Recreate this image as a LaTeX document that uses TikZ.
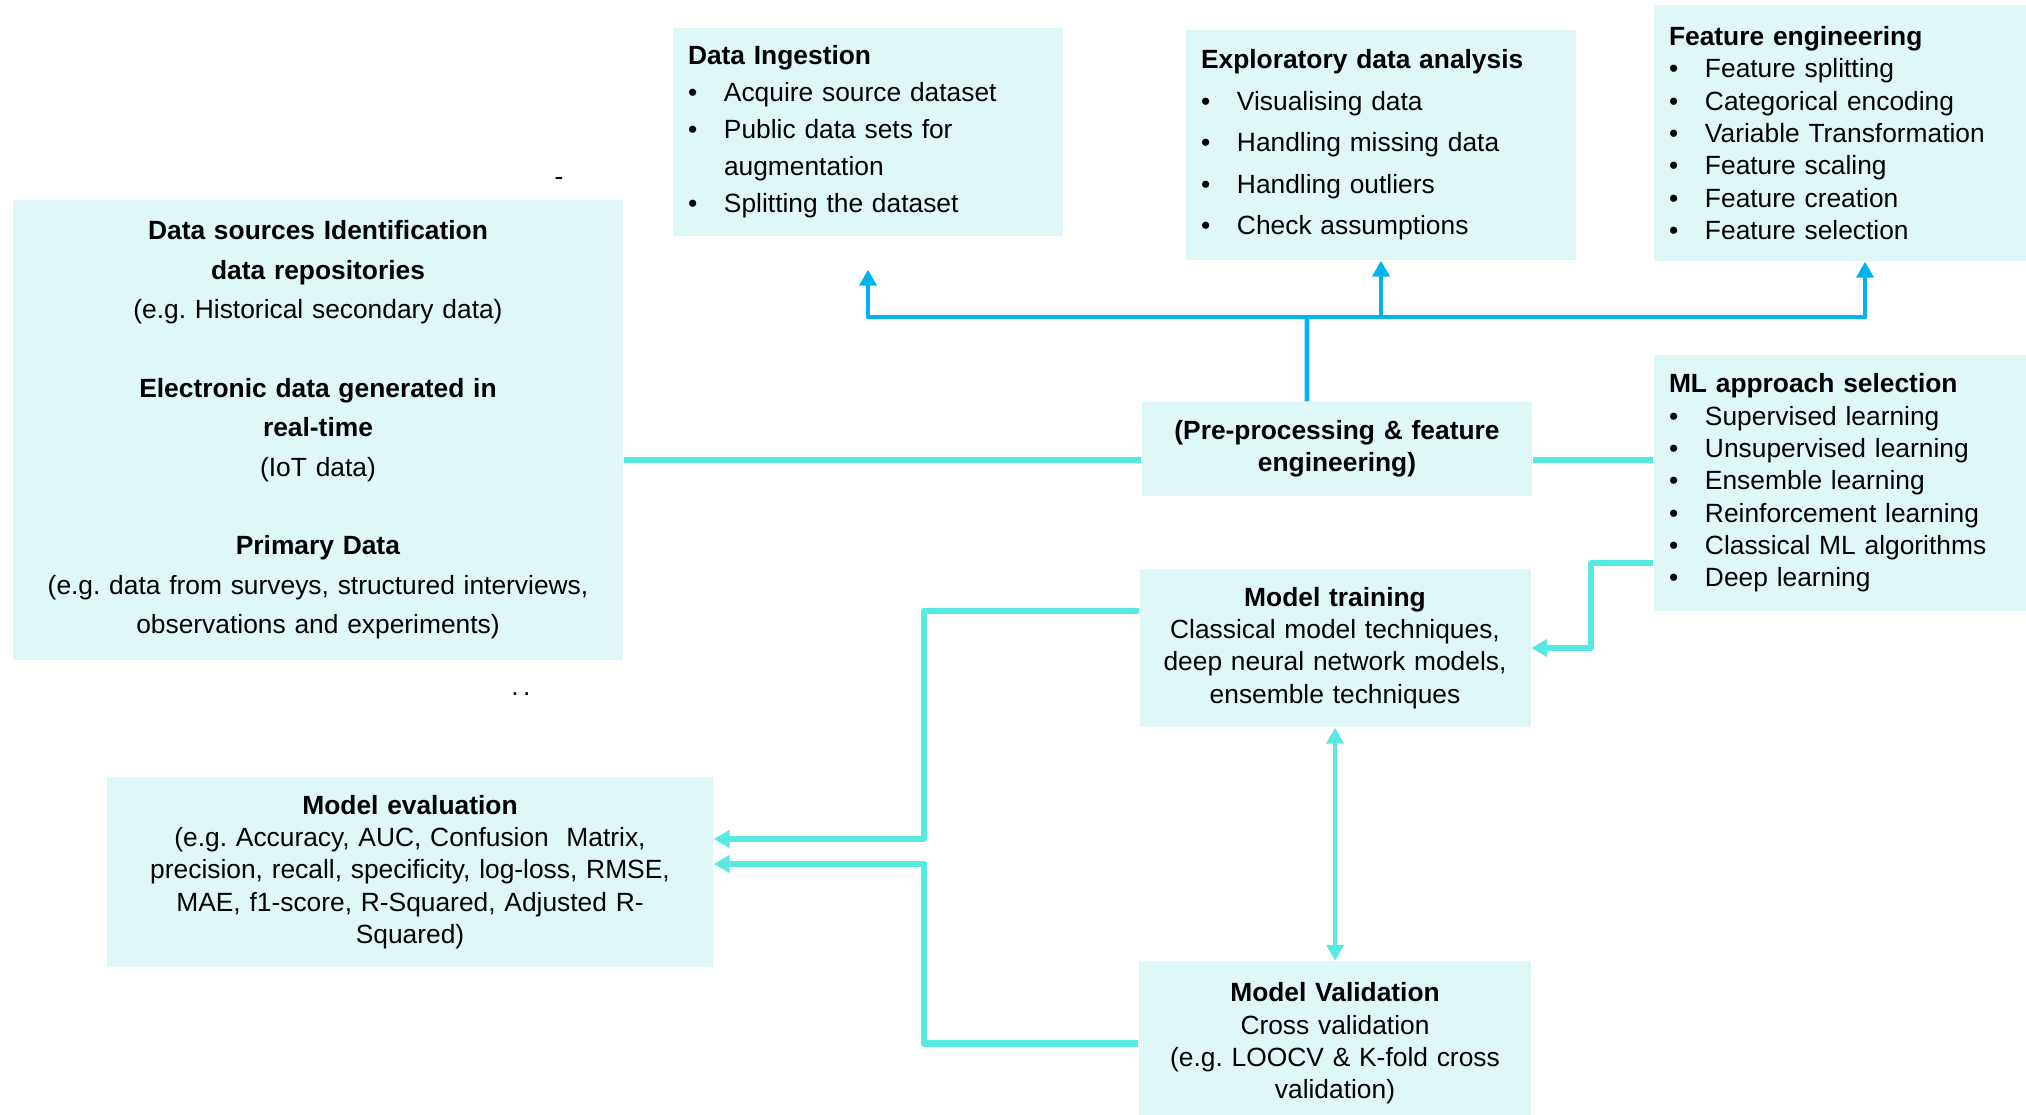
\documentclass[tikz,border=0pt]{standalone}
\usepackage{fontspec}
\setmainfont{Liberation Sans}
\usetikzlibrary{positioning, arrows.meta}

\definecolor{boxfill}{RGB}{223,248,247}
\definecolor{tqline}{RGB}{88,234,224}
\definecolor{blline}{RGB}{0,178,240}

\frenchspacing
\newcommand{\itm}{\par\hangindent=0.36cm\hangafter=1\noindent\makebox[0.36cm][l]{\textbullet}}

\begin{document}
\begin{tikzpicture}[>={Triangle[length=4.5pt,width=4.8pt]}, line join=round,
  box/.style={fill=boxfill, inner xsep=0.15cm, inner ysep=0pt, font=\fontsize{7.5}{9.2}\selectfont},
  list/.style={box, align=left},
  mid/.style={box, align=center},
  tq/.style={draw=tqline, line width=1.8pt},
  bl/.style={draw=blline, line width=1.3pt}]
  \useasboundingbox (0,0) rectangle (20.26,11.14);

  \node (di) [list, text width=3.60cm, minimum height=2.08cm, font=\fontsize{7.5}{10.5}\selectfont] at (8.68,9.82)
    {\textbf{Data Ingestion}\itm Acquire source dataset\itm Public data sets for\newline augmentation\itm Splitting the dataset};
  \node (eda) [list, text width=3.60cm, minimum height=2.30cm, font=\fontsize{7.5}{11.8}\selectfont] at (13.81,9.69)
    {\textbf{Exploratory data analysis}\itm Visualising data\itm Handling missing data\itm Handling outliers\itm Check assumptions};
  \node (fe) [list, text width=3.42cm, minimum height=2.56cm] at (18.40,9.81)
    {\textbf{Feature engineering}\itm Feature splitting\itm Categorical encoding\itm Variable Transformation\itm Feature scaling\itm Feature creation\itm Feature selection};
  \node (src) [mid, text width=5.80cm, minimum height=4.60cm, font=\fontsize{7.5}{11.2}\selectfont] at (3.18,6.84)
    {\textbf{Data sources Identification}\\\textbf{data repositories}\\(e.g. Historical secondary data)\\[11.2pt]
     \textbf{Electronic data generated in}\\\textbf{real-time}\\(IoT data)\\[11.2pt]
     \textbf{Primary Data}\\(e.g. data from surveys, structured interviews,\\observations and experiments)};
  \node (pre) [mid, text width=3.60cm, minimum height=0.94cm] at (13.37,6.65)
    {\textbf{(Pre-processing \& feature}\\\textbf{engineering)}};
  \node (ml) [list, text width=3.42cm, minimum height=2.56cm] at (18.40,6.31)
    {\textbf{ML approach selection}\itm Supervised learning\itm Unsupervised learning\itm Ensemble learning\itm Reinforcement learning\itm Classical ML algorithms\itm Deep learning};
  \node (train) [mid, text width=3.61cm, minimum height=1.58cm] at (13.35,4.66)
    {\textbf{Model training}\\Classical model techniques,\\deep neural network models,\\ensemble techniques};
  \node (eval) [mid, text width=5.76cm, minimum height=1.90cm] at (4.10,2.42)
    {\textbf{Model evaluation}\\(e.g. Accuracy, AUC, Confusion~ Matrix,\\precision, recall, specificity, log-loss, RMSE,\\MAE, f1-score, R-Squared, Adjusted R-\\Squared)};
  \node (val) [mid, text width=3.62cm, minimum height=1.64cm, below=2.33cm of train]
    {\textbf{Model Validation}\\Cross validation\\(e.g. LOOCV \& K-fold cross\\validation)};
  \node (dash) [font=\fontsize{7.5}{9}\selectfont] at (5.59,9.33) {-};
  \node (dots) [font=\fontsize{7.5}{9}\selectfont] at (5.21,4.20) {.\,.};

  % blue bus to the three top boxes
  \coordinate (bus) at (13.07,7.97);
  \draw[bl] ([xshift=-0.30cm]pre.north) -- (bus);
  \draw[bl,->] (bus) -| ([yshift=-0.33cm]di.south);
  \draw[bl,->] (bus) -| (eda.south);
  \draw[bl,->] (bus) -| ([xshift=0.25cm]fe.south);

  % turquoise connectors
  \coordinate (hl) at ([yshift=-0.11cm]pre.west);
  \draw[tq] (hl) -- (hl -| src.east);
  \draw[tq] (pre.east |- hl) -- (ml.west |- hl);
  \draw[tq,->] ([yshift=-0.80cm]ml.west) -- ++(-0.62,0) |- (train.east);
  \draw[tq,->] ([yshift=0.37cm]train.west) -- ++(-2.15,0) |- ([yshift=0.33cm]eval.east);
  \draw[tq,->] (val.west) -- ++(-2.14,0) |- ([yshift=0.08cm]eval.east);
  \draw[tq,line width=1pt,<->] (train.south) -- (val.north);
\end{tikzpicture}
\end{document}
